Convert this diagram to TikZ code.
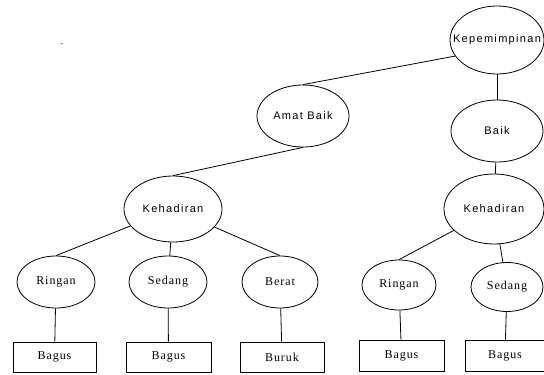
\documentclass[tikz,border=0pt]{standalone}
\usepackage{fontspec}
\setmainfont{Liberation Serif}
\newfontfamily\lsans[LetterSpace=12]{Liberation Sans}
\newfontfamily\lserif[LetterSpace=8]{Liberation Serif}
\usetikzlibrary{shapes.geometric}
\begin{document}
\begin{tikzpicture}[x=1pt,y=-1pt,line width=0.8pt,
  ell/.style={draw,ellipse,inner sep=0pt},
  sanslab/.style={font=\lsans\fontsize{11}{13}\selectfont,inner sep=0pt},
  seriflab/.style={font=\lserif\fontsize{12}{14}\selectfont,inner sep=0pt},
  leaf/.style={draw,rectangle,inner sep=0pt,minimum height=30pt,font=\lserif\fontsize{12}{14}\selectfont}]
\useasboundingbox (0,0) rectangle (544,375);
\node (dot) at (62,44) {.};
\node[ell,minimum width=94pt,minimum height=68pt,label={[sanslab]center:Kepemimpinan}] (kep) at (497,40) {};
\node[ell,minimum width=92pt,minimum height=62pt,label={[sanslab]center:Amat Baik}] (ab) at (303,116) {};
\node[ell,minimum width=92pt,minimum height=62pt,label={[sanslab]center:Baik}] (baik) at (497,131) {};
\node[ell,minimum width=98pt,minimum height=66pt,label={[sanslab]center:Kehadiran}] (kl) at (173,209) {};
\node[ell,minimum width=100pt,minimum height=70pt,label={[sanslab]center:Kehadiran}] (kr) at (494,209) {};
\node[ell,minimum width=78pt,minimum height=52pt,label={[seriflab]center:Ringan}] (rl) at (56,282) {};
\node[ell,minimum width=78pt,minimum height=52pt,label={[seriflab]center:Sedang}] (sl) at (168,282) {};
\node[ell,minimum width=76pt,minimum height=52pt,label={[seriflab]center:Berat}] (bl) at (280,282) {};
\node[ell,minimum width=74pt,minimum height=50pt,label={[seriflab]center:Ringan}] (rr) at (399,285) {};
\node[ell,minimum width=72pt,minimum height=49pt,label={[seriflab]center:Sedang}] (sr) at (507,287) {};
\node[leaf,minimum width=83pt] (b1) at (54.5,357) {Bagus};
\node[leaf,minimum width=85pt] (b2) at (168.5,357) {Bagus};
\node[leaf,minimum width=84pt] (b3) at (282,357) {Buruk};
\node[leaf,minimum width=85pt,minimum height=31pt] (b4) at (401.5,355.5) {Bagus};
\node[leaf,minimum width=80pt,minimum height=31pt] (b5) at (505,355.5) {Bagus};
\draw (kep.201) -- (ab.north);
\draw (kep) -- (baik);
\draw (ab.south) -- (kl.north);
\draw (baik) -- (kr);
\draw (kl) -- (rl.north);
\draw (kl) -- (sl);
\draw (kl) -- (bl.north);
\draw (kr) -- (rr.north);
\draw (kr) -- (sr);
\draw (rl) -- (b1);
\draw (sl) -- (b2);
\draw (bl) -- (b3);
\draw (rr) -- (b4);
\draw (sr) -- (b5);
\end{tikzpicture}
\end{document}
